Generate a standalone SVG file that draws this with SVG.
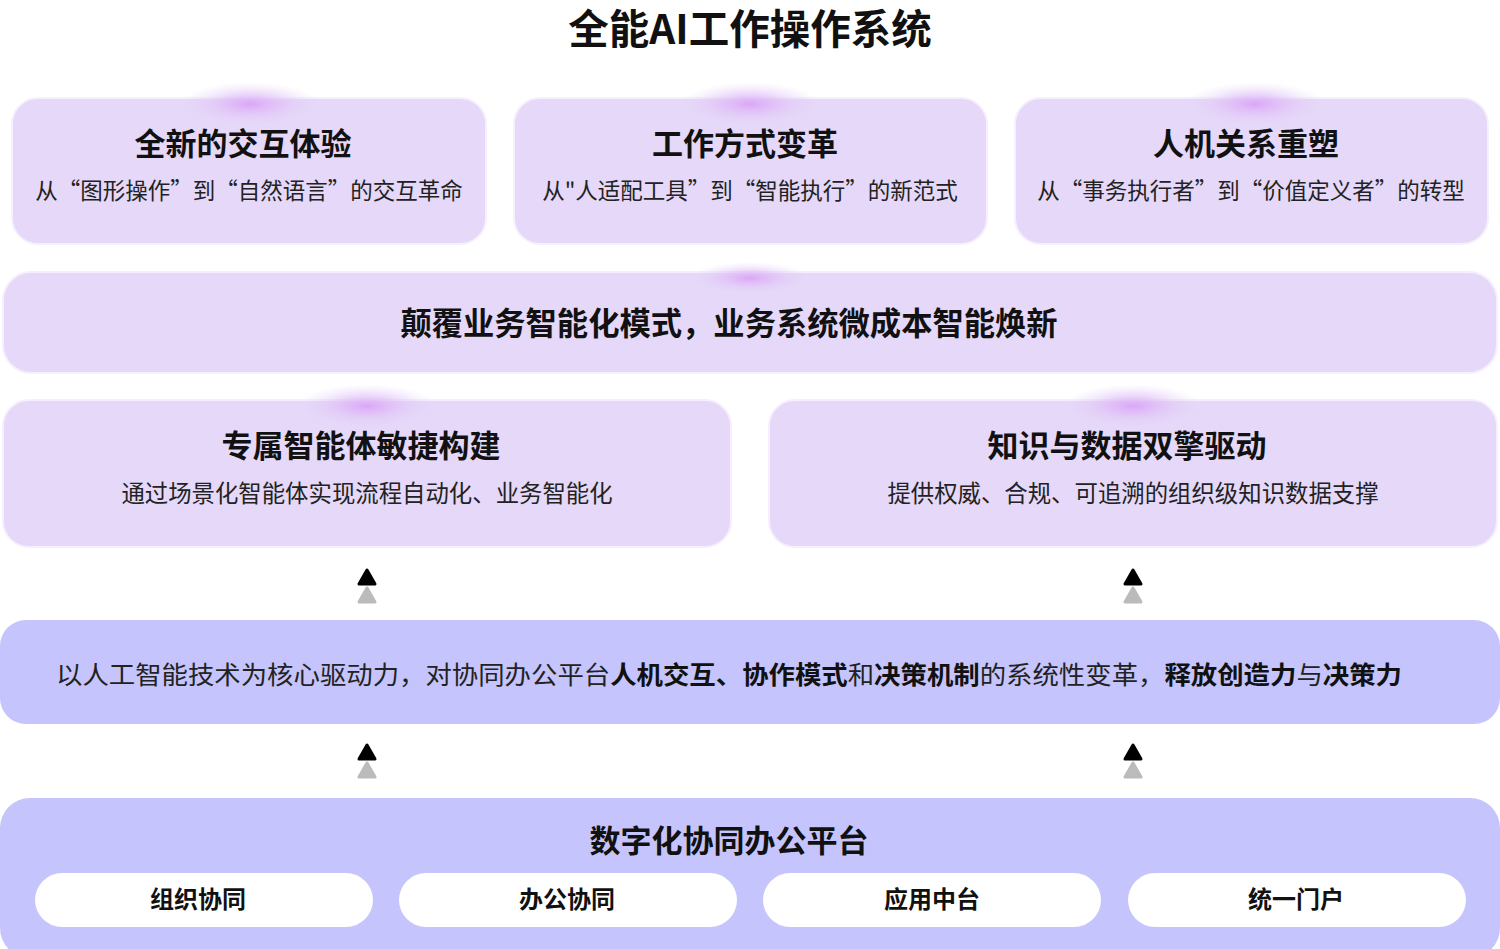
<svg xmlns="http://www.w3.org/2000/svg" width="1500" height="949" viewBox="0 0 1500 949">
<style>
text{font-family:"Noto Sans CJK SC","Noto Sans",sans-serif;text-anchor:middle;fill:#111}
.card{fill:#e5d8f8;stroke:#f6effd;stroke-width:2}
.h{font-size:31px;font-weight:bold}
.s{font-size:22.5px;fill:#222}
.s2{font-size:23.4px;fill:#222}
.band{fill:#c6c4fc}
.pill{fill:#fff}
.p{font-size:24px;font-weight:bold}
</style>
<defs>
<radialGradient id="g" cx="0.5" cy="0.5" r="0.5">
<stop offset="0" stop-color="#dba6f7"/><stop offset="0.4" stop-color="#e0bdf7" stop-opacity="0.7"/><stop offset="1" stop-color="#e5d8f8" stop-opacity="0"/>
</radialGradient>
<path id="up" d="M0,-8 L8,6 L-8,6 Z" stroke-linejoin="round" stroke-width="3"/>
</defs>
<rect width="1500" height="949" fill="#fff"/>
<text x="750" y="44" style="font-size:40.5px;font-weight:bold">全能AI工作操作系统</text>
<g id="card1"><rect class="card" x="12" y="98" width="474" height="146" rx="26"/><ellipse cx="250" cy="104" rx="70" ry="22" fill="url(#g)"/>
<text class="h" x="243" y="155">全新的交互体验</text><text class="s" x="249" y="199">从“图形操作”到“自然语言”的交互革命</text></g>
<g id="card2"><rect class="card" x="514" y="98" width="473" height="146" rx="26"/><ellipse cx="750" cy="104" rx="70" ry="22" fill="url(#g)"/>
<text class="h" x="745" y="155">工作方式变革</text><text class="s" x="750" y="199">从"人适配工具”到“智能执行”的新范式</text></g>
<g id="card3"><rect class="card" x="1015" y="98" width="473" height="146" rx="26"/><ellipse cx="1255" cy="104" rx="70" ry="22" fill="url(#g)"/>
<text class="h" x="1246" y="155">人机关系重塑</text><text class="s" x="1251" y="199">从“事务执行者”到“价值定义者”的转型</text></g>
<g id="mid"><rect class="card" x="3" y="272" width="1494" height="101" rx="28"/><ellipse cx="750" cy="278" rx="60" ry="16" fill="url(#g)"/>
<text x="729" y="335" style="font-size:31.3px;font-weight:bold">颠覆业务智能化模式，业务系统微成本智能焕新</text></g>
<g id="card4"><rect class="card" x="3" y="400" width="728" height="147" rx="26"/><ellipse cx="367" cy="406" rx="70" ry="22" fill="url(#g)"/>
<text class="h" x="361" y="457">专属智能体敏捷构建</text><text class="s2" x="367" y="502">通过场景化智能体实现流程自动化、业务智能化</text></g>
<g id="card5"><rect class="card" x="769" y="400" width="728" height="147" rx="26"/><ellipse cx="1133" cy="406" rx="70" ry="22" fill="url(#g)"/>
<text class="h" x="1127" y="457">知识与数据双擎驱动</text><text class="s2" x="1133" y="502">提供权威、合规、可追溯的组织级知识数据支撑</text></g>
<g id="core"><rect class="band" x="0" y="620" width="1500" height="104" rx="26"/>
<text x="56" y="684" textLength="1346" lengthAdjust="spacingAndGlyphs" style="font-size:25px;text-anchor:start;fill:#222">以人工智能技术为核心驱动力，对协同办公平台<tspan font-weight="bold" fill="#111">人机交互、协作模式</tspan>和<tspan font-weight="bold" fill="#111">决策机制</tspan>的系统性变革，<tspan font-weight="bold" fill="#111">释放创造力</tspan>与<tspan font-weight="bold" fill="#111">决策力</tspan></text></g>
<g id="platform"><rect class="band" x="0" y="798" width="1500" height="160" rx="30"/>
<text class="h" x="729" y="852">数字化协同办公平台</text></g>
<g id="pill1"><rect class="pill" x="35" y="873" width="338" height="54" rx="27"/><text class="p" x="198" y="908">组织协同</text></g>
<g id="pill2"><rect class="pill" x="399" y="873" width="338" height="54" rx="27"/><text class="p" x="567" y="908">办公协同</text></g>
<g id="pill3"><rect class="pill" x="763" y="873" width="338" height="54" rx="27"/><text class="p" x="932" y="908">应用中台</text></g>
<g id="pill4"><rect class="pill" x="1128" y="873" width="338" height="54" rx="27"/><text class="p" x="1296" y="908">统一门户</text></g>
<g id="connectors">
<use href="#up" x="367" y="578" fill="#000" stroke="#000"/><use href="#up" x="367" y="596" fill="#bbb" stroke="#bbb"/>
<use href="#up" x="1133" y="578" fill="#000" stroke="#000"/><use href="#up" x="1133" y="596" fill="#bbb" stroke="#bbb"/>
<use href="#up" x="367" y="753" fill="#000" stroke="#000"/><use href="#up" x="367" y="771" fill="#bbb" stroke="#bbb"/>
<use href="#up" x="1133" y="753" fill="#000" stroke="#000"/><use href="#up" x="1133" y="771" fill="#bbb" stroke="#bbb"/>
</g>
</svg>
